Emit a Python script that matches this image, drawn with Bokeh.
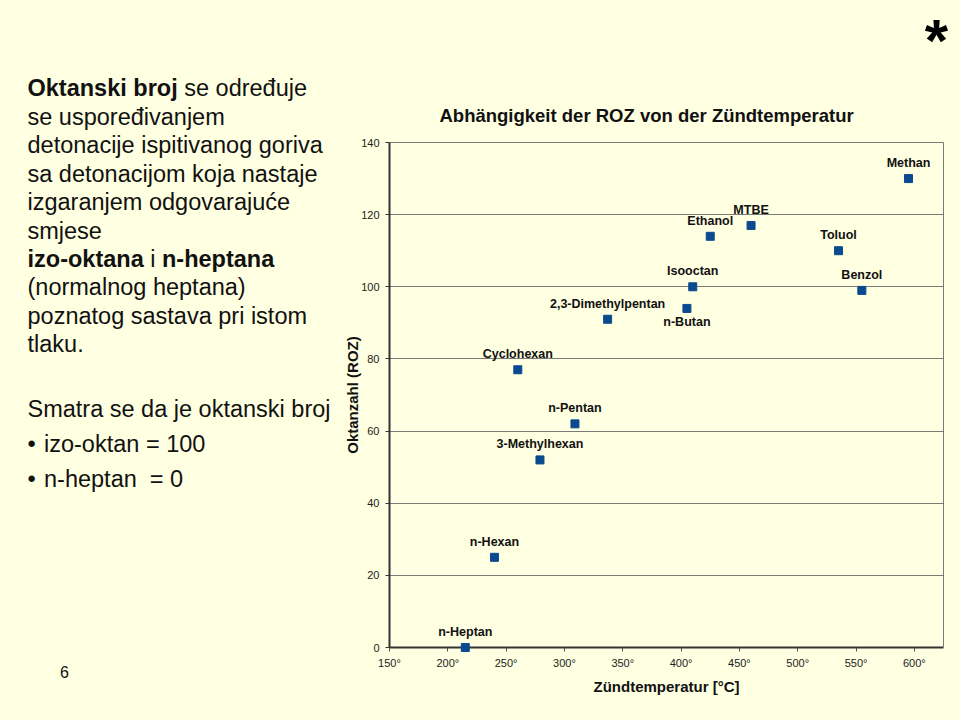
from bokeh.plotting import figure
from bokeh.layouts import row, column
from bokeh.models import (ColumnDataSource, LinearAxis, FixedTicker, Range1d, Grid, Div,
                          Title, GlobalInlineStyleSheet)
from bokeh.core.properties import value
from bokeh.embed import file_html
from bokeh.resources import INLINE

# ---------------- data ----------------
substances = ["n-Heptan", "n-Hexan", "3-Methylhexan", "Cyclohexan", "n-Pentan",
              "2,3-Dimethylpentan", "n-Butan", "Isooctan", "Ethanol", "MTBE",
              "Toluol", "Benzol", "Methan"]
ignition_temp = [215, 240, 279, 260, 309, 337, 405, 410, 425, 460, 535, 555, 595]
octane_number = [0, 25, 52, 77, 62, 91, 94, 100, 114, 117, 110, 99, 130]

x_ticks = [150, 200, 250, 300, 350, 400, 450, 500, 550, 600]
x_tick_labels = ["150°", "200°", "250°", "300°", "350°", "400°", "450°", "500°", "550°", "600°"]
y_ticks = [0, 20, 40, 60, 80, 100, 120, 140]

chart_title = "Abhängigkeit der ROZ von der Zündtemperatur"
x_title = "Zündtemperatur [°C]"
y_title = "Oktanzahl (ROZ)"

slide_lines = ["<b>Oktanski broj</b> se određuje", "se uspoređivanjem",
               "detonacije ispitivanog goriva", "sa detonacijom koja nastaje",
               "izgaranjem odgovarajuće", "smjese",
               "<b>izo-oktana</b> i <b>n-heptana</b>", "(normalnog heptana)",
               "poznatog sastava pri istom", "tlaku."]
slide_intro = "Smatra se da je oktanski broj"
slide_bullets = ["izo-oktan = 100", "n-heptan&nbsp; = 0"]
slide_number = "6"
corner_mark = "*"

# ---------------- layout ----------------
BG = "#FFFFE1"
FONT = "Liberation Sans"
DIV_W = 335
STAR_H = 60
FIG_W, FIG_H = 960 - DIV_W, 720 - STAR_H
FL, FR = 389 - DIV_W, 943 - DIV_W
FT, FB = 142 - STAR_H, 647 - STAR_H

p = figure(width=FIG_W, height=FIG_H, output_backend="svg", toolbar_location=None, tools="",
           x_range=Range1d(150, 625), y_range=Range1d(0, 140),
           x_axis_location=None, y_axis_location=None,
           min_border_left=FL, min_border_right=FIG_W - FR,
           min_border_top=FT, min_border_bottom=FIG_H - FB)
p.background_fill_color = BG
p.border_fill_color = BG
p.outline_line_color = None
p.stylesheets = [GlobalInlineStyleSheet(css=f"html, body {{ background-color: {BG}; }}")]
p.center = [r for r in p.center if not isinstance(r, Grid)]

p.add_layout(Grid(dimension=1, ticker=FixedTicker(ticks=y_ticks[1:-1]),
                  grid_line_color="#7a7a7a", grid_line_width=1))

yax = LinearAxis(ticker=FixedTicker(ticks=y_ticks),
                 axis_line_color="#333333", axis_line_width=2,
                 major_tick_out=4, major_tick_in=0, major_tick_line_color="#333333",
                 minor_tick_line_color=None,
                 major_label_text_font=FONT, major_label_text_font_size="11px",
                 major_label_text_color="#222222", major_label_standoff=6,
                 axis_label=y_title, axis_label_text_font=FONT,
                 axis_label_text_font_style="bold", axis_label_text_font_size="15px",
                 axis_label_text_color="#111111", axis_label_standoff=-3)
p.add_layout(yax, "left")

xax = LinearAxis(ticker=FixedTicker(ticks=x_ticks),
                 major_label_overrides=dict(zip(x_ticks, x_tick_labels)),
                 axis_line_color="#333333", axis_line_width=2,
                 major_tick_out=4, major_tick_in=0, major_tick_line_color="#555555",
                 minor_tick_line_color=None,
                 major_label_text_font=FONT, major_label_text_font_size="11px",
                 major_label_text_color="#222222", major_label_standoff=5,
                 axis_label=x_title, axis_label_text_font=FONT,
                 axis_label_text_font_style="bold", axis_label_text_font_size="15px",
                 axis_label_text_color="#111111", axis_label_standoff=6)
p.add_layout(xax, "below")

for loc in ("above", "right"):
    p.add_layout(LinearAxis(ticker=FixedTicker(ticks=[]),
                            axis_line_color="#7a7a7a", axis_line_width=1,
                            major_tick_out=0, major_tick_in=0, major_label_standoff=0,
                            minor_tick_line_color=None, major_tick_line_color=None), loc)

p.add_layout(Title(text=chart_title, align="left", offset=50, standoff=34,
                   text_font=FONT, text_font_style="bold", text_font_size="18.5px",
                   text_color="#111111"), "above")

below = {"n-Butan"}
src = ColumnDataSource(dict(
    x=ignition_temp, y=octane_number, name=substances,
    yoff=[14 if s in below else -15.5 for s in substances],
))
p.scatter("x", "y", source=src, marker="square", size=8,
          fill_color="#0B4A8F", line_color="#0B4A8F", level="overlay")
p.text("x", "y", text="name", source=src, y_offset="yoff",
       text_align="center", text_baseline="middle",
       text_font=value(FONT), text_font_style="bold", text_font_size="12.5px",
       text_color="#111111")

# ---------------- slide text (left) ----------------
bul = '<span style="display:inline-block;width:16.5px;">•</span>'
html = (
    f'<div style="position:relative;width:{DIV_W}px;height:720px;'
    f"font-family:'{FONT}';color:#111111;\">"
    '<div style="position:absolute;left:27.5px;top:74.3px;font-size:23.5px;'
    'line-height:28.45px;white-space:nowrap;">' + "<br>".join(slide_lines) + "</div>"
    '<div style="position:absolute;left:27.5px;top:392.4px;font-size:23.5px;'
    'line-height:35px;white-space:nowrap;">' + slide_intro + "<br>"
    + "<br>".join(bul + b for b in slide_bullets) + "</div>"
    '<div style="position:absolute;left:60px;top:664.5px;font-size:16px;line-height:16px;">'
    + slide_number + "</div></div>"
)
div = Div(text=html, width=DIV_W, height=720, margin=0)

star_html = (
    f'<div style="position:relative;width:{FIG_W}px;height:{STAR_H}px;">'
    f'<div style="position:absolute;left:{924.8 - DIV_W}px;top:11px;'
    f"font-family:'{FONT}';font-weight:bold;font-size:60px;line-height:60px;"
    f'color:#000000;">{corner_mark}</div></div>'
)
star = Div(text=star_html, width=FIG_W, height=STAR_H, margin=0)

page = row(div, column(star, p))
open("out.html", "w").write(file_html(page, INLINE))
